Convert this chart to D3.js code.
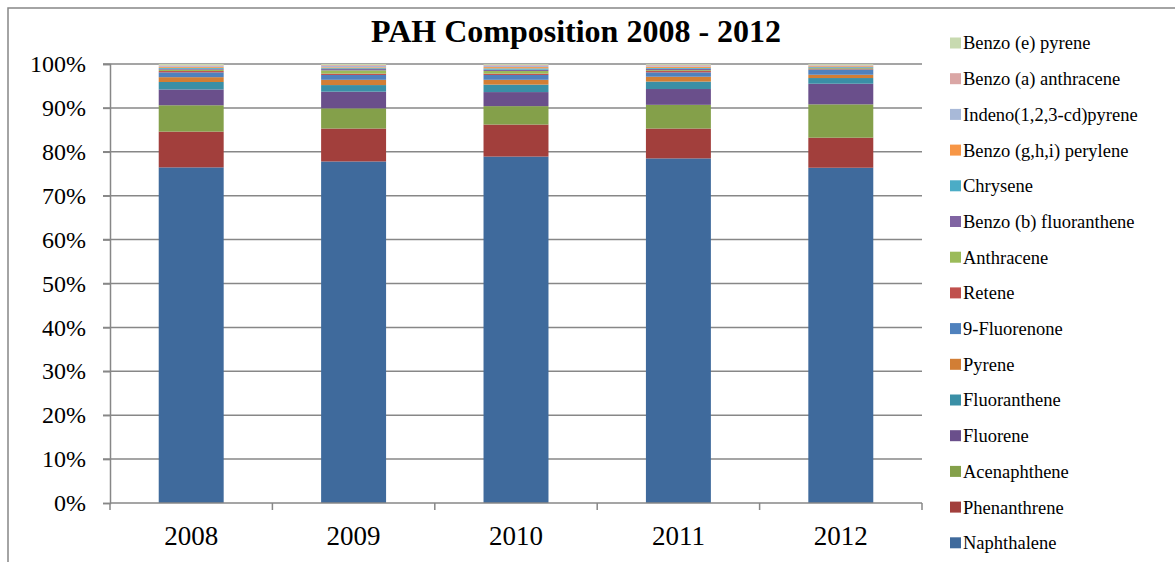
<!DOCTYPE html>
<html>
<head>
<meta charset="utf-8">
<script src="https://cdn.jsdelivr.net/npm/d3@7"></script>
<style>
  html, body { margin: 0; padding: 0; background: #fff; }
  svg { display: block; }
  text { font-family: "Liberation Serif", "Times New Roman", serif; fill: #000; }
</style>
</head>
<body>
<svg id="chart" width="1175" height="562"></svg>
<script>
// Years on the category axis
const years = ["2008", "2009", "2010", "2011", "2012"];

// Compounds, stacked bottom to top
const compounds = [
  "Naphthalene", "Phenanthrene", "Acenaphthene", "Fluorene", "Fluoranthene",
  "Pyrene", "9-Fluorenone", "Retene", "Anthracene", "Benzo (b) fluoranthene",
  "Chrysene", "Benzo (g,h,i) perylene", "Indeno(1,2,3-cd)pyrene",
  "Benzo (a) anthracene", "Benzo (e) pyrene"
];

const colors = [
  "#3F6A9C", "#A23F3C", "#84A04A", "#6A4F8B", "#3A8FA6",
  "#D27E35", "#4F81BD", "#C0504D", "#9BBB59", "#8064A2",
  "#4BACC6", "#F79646", "#A8B9D8", "#DAA6A5", "#C8DAB0"
];

// Share of total PAH (%) per compound, one value per year
const naphthalene  = [76.45, 77.8, 78.95, 78.5, 76.45];
const phenanthrene = [8.15, 7.5, 7.3, 6.8, 6.85];
const acenaphthene = [6.0, 4.6, 4.2, 5.4, 7.6];
const fluorene     = [3.6, 3.8, 3.2, 3.6, 4.7];
const fluoranthene = [1.7, 1.5, 1.7, 1.7, 1.3];
const pyrene       = [1.1, 1.2, 1.1, 1.1, 0.75];
const fluorenone   = [1.1, 1.1, 1.1, 1.0, 1.2];
const retene       = [0.3, 0.3, 0.3, 0.3, 0.1];
const anthracene   = [0.3, 0.75, 0.6, 0.2, 0.2];
const benzoBF      = [0.2, 0.3, 0.3, 0.3, 0.15];
const chrysene     = [0.2, 0.2, 0.3, 0.2, 0.2];
const benzoGHI     = [0.2, 0.2, 0.3, 0.3, 0.2];
const indeno       = [0.2, 0.3, 0.3, 0.2, 0.1];
const benzoAA      = [0.2, 0.2, 0.2, 0.2, 0.1];
const benzoEP      = [0.3, 0.25, 0.2, 0.2, 0.2];

const seriesValues = [
  naphthalene, phenanthrene, acenaphthene, fluorene, fluoranthene,
  pyrene, fluorenone, retene, anthracene, benzoBF,
  chrysene, benzoGHI, indeno, benzoAA, benzoEP
];

const yTicks = [0, 0.1, 0.2, 0.3, 0.4, 0.5, 0.6, 0.7, 0.8, 0.9, 1.0];

// Rows for d3.stack
const rows = years.map((yr, i) => {
  const r = { year: yr };
  compounds.forEach((c, j) => { r[c] = seriesValues[j][i]; });
  return r;
});

const svg = d3.select("#chart");

// Chart frame
svg.append("path")
  .attr("d", "M8,562V8H1175")
  .attr("fill", "none")
  .attr("stroke", "#878787")
  .attr("stroke-width", 1.5);

const plot = { left: 110, right: 922, top: 64, bottom: 503 };

const x = d3.scaleBand().domain(years).range([plot.left, plot.right]).padding(0);
const y = d3.scaleLinear().domain([0, 1]).range([plot.bottom, plot.top]);

// Horizontal gridlines with tick stubs
svg.append("g").selectAll("line").data(yTicks.slice(1)).join("line")
  .attr("x1", plot.left - 7).attr("x2", plot.right)
  .attr("y1", d => y(d)).attr("y2", d => y(d))
  .attr("stroke", "#878787").attr("stroke-width", 1.5);

// Stacked bars (100% stacked)
const stack = d3.stack().keys(compounds).offset(d3.stackOffsetExpand);
const layers = stack(rows);
const bw = x.bandwidth() * 0.4;

svg.append("g").selectAll("g").data(layers).join("g")
  .attr("fill", (d, i) => colors[i])
  .selectAll("rect").data(d => d).join("rect")
  .attr("x", d => x(d.data.year) + (x.bandwidth() - bw) / 2)
  .attr("width", bw)
  .attr("y", d => y(d[1]))
  .attr("height", d => y(d[0]) - y(d[1]));

// Y axis
const yAxis = svg.append("g")
  .attr("transform", `translate(${plot.left},0)`)
  .call(d3.axisLeft(y).tickValues(yTicks).tickFormat(d3.format(".0%")).tickSize(7).tickPadding(17));
yAxis.select(".domain").attr("stroke", "#878787").attr("stroke-width", 1.5);
yAxis.selectAll(".tick line").attr("stroke", "#878787").attr("stroke-width", 1.5);
yAxis.selectAll(".tick text")
  .attr("font-family", "Liberation Serif, Times New Roman, serif")
  .attr("font-size", 24).attr("fill", "#000");

// X axis with ticks between categories
const xg = svg.append("g").attr("transform", `translate(0,${plot.bottom})`);
xg.append("line").attr("x1", plot.left).attr("x2", plot.right)
  .attr("stroke", "#878787").attr("stroke-width", 1.5);
const bounds = years.map(d => x(d)).concat([plot.right]);
xg.selectAll("line.tk").data(bounds).join("line").attr("class", "tk")
  .attr("x1", d => d).attr("x2", d => d).attr("y1", 0).attr("y2", 7)
  .attr("stroke", "#878787").attr("stroke-width", 1.5);
xg.selectAll("text").data(years).join("text")
  .attr("x", d => x(d) + x.bandwidth() / 2)
  .attr("y", 42)
  .attr("text-anchor", "middle")
  .attr("font-size", 27)
  .text(d => d);

// Title
svg.append("text")
  .attr("x", 576).attr("y", 42)
  .attr("text-anchor", "middle")
  .attr("font-size", 32).attr("font-weight", "bold")
  .text("PAH Composition 2008 - 2012");

// Legend, top entry is the last stacked series
const legendItems = compounds.map((c, i) => ({ name: c, color: colors[i] })).reverse();
const lg = svg.append("g");
const item = lg.selectAll("g").data(legendItems).join("g")
  .attr("transform", (d, i) => `translate(950,${43 + i * 35.7})`);
item.append("rect")
  .attr("x", 0).attr("y", -5.5).attr("width", 11).attr("height", 11)
  .attr("fill", d => d.color);
item.append("text")
  .attr("x", 13).attr("y", 0).attr("dy", "0.35em")
  .attr("font-size", 18.5)
  .text(d => d.name);
</script>
</body>
</html>
